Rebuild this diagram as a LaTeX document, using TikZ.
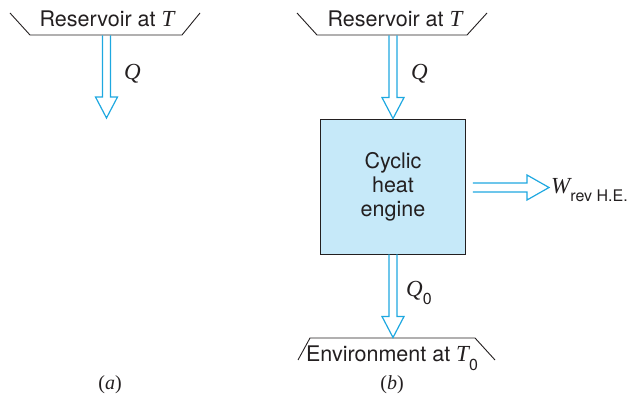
\documentclass[tikz,border=0pt]{standalone}
\usepackage{fontspec}
\setmainfont{TeX Gyre Heros}
\newfontfamily\tserif{Liberation Serif}
\usetikzlibrary{calc}
\definecolor{arrowcyan}{HTML}{1EA8E0}
\definecolor{boxblue}{HTML}{C6E9F9}
\definecolor{inkgray}{HTML}{231F20}
\newcommand\vsym[1]{{\tserif\itshape\fontsize{23}{24}\selectfont #1}}
\newcommand\sbs[1]{\raisebox{-0.4em}{\fontsize{16}{16}\selectfont #1}}
\newcommand\harrowdown[2]{\draw[harrow] let \p1=(#1),\p2=(#2) in
  (\x2-4pt,\y1) -- (\x2-4pt,\y2+21pt) -- (\x2-11pt,\y2+21pt) -- (\p2)
  -- (\x2+11pt,\y2+21pt) -- (\x2+4pt,\y2+21pt) -- (\x2+4pt,\y1);}
\newcommand\harrowright[2]{\draw[harrow] let \p1=(#1),\p2=(#2) in
  (\x1,\y2+4.5pt) -- (\x2-22pt,\y2+4.5pt) -- (\x2-22pt,\y2+12.5pt) -- (\p2)
  -- (\x2-22pt,\y2-12.5pt) -- (\x2-22pt,\y2-4.5pt) -- (\x1,\y2-4.5pt);}
\begin{document}
\begin{tikzpicture}[x=1pt,y=-1pt,
  harrow/.style={draw=arrowcyan,line width=1.2pt,line join=miter},
  wall/.style={draw=inkgray,line width=0.9pt},
  lbl/.style={inner sep=0pt,text=inkgray,font=\fontsize{21.5}{25}\selectfont},
  captext/.style={inner sep=0pt,text=inkgray,font=\tserif\fontsize{20}{22}\selectfont}]
\useasboundingbox (0,0) rectangle (628,403);
% (a)
\draw[wall] (10,13) -- (30,35) -- (182,35) -- (200,13);
\node[lbl] (resA) at (107,19) {Reservoir at \vsym{T}};
\coordinate (baseA) at (106.5,35.5);
\coordinate (tipA) at (106.5,118);
\harrowdown{baseA}{tipA}
\node[lbl,anchor=west] (qA) at (124,74) {\vsym{Q}};
\node[captext] (capA) at (110,385) {(\textit{a})};
% (b)
\draw[wall] (297,13) -- (317,35) -- (467,35) -- (487,13);
\node[lbl] (resB) at (395,19) {Reservoir at \vsym{T}};
\coordinate (baseB) at (393,35.5);
\node[draw=inkgray,line width=0.9pt,fill=boxblue,minimum width=145pt,minimum height=135pt,
  inner sep=0pt,align=center,text=inkgray,font=\fontsize{21.5}{24}\selectfont]
  (engine) at (393,186.5) {Cyclic\\heat\\engine};
\harrowdown{baseB}{engine.north}
\node[lbl,anchor=west] (qB) at (411,74) {\vsym{Q}};
\draw[wall] (298,360) -- (310,338) -- (475,338) -- (495,360);
\coordinate (envtop) at (393,337.5);
\harrowdown{engine.south}{envtop}
\node[lbl,anchor=west] (qC) at (406,293) {\vsym{Q}\sbs{0}};
\node[lbl] (env) at (392,358) {Environment at \vsym{T}\sbs{0}};
\coordinate (wstart) at ($(engine.east)+(7,1)$);
\coordinate (wtip) at (549,187.5);
\harrowright{wstart}{wtip}
\node[lbl,anchor=west] (wlbl) at (551,190) {\vsym{W}\sbs{rev H.E.}};
\node[captext] (capB) at (392,385) {(\textit{b})};
\end{tikzpicture}
\end{document}
